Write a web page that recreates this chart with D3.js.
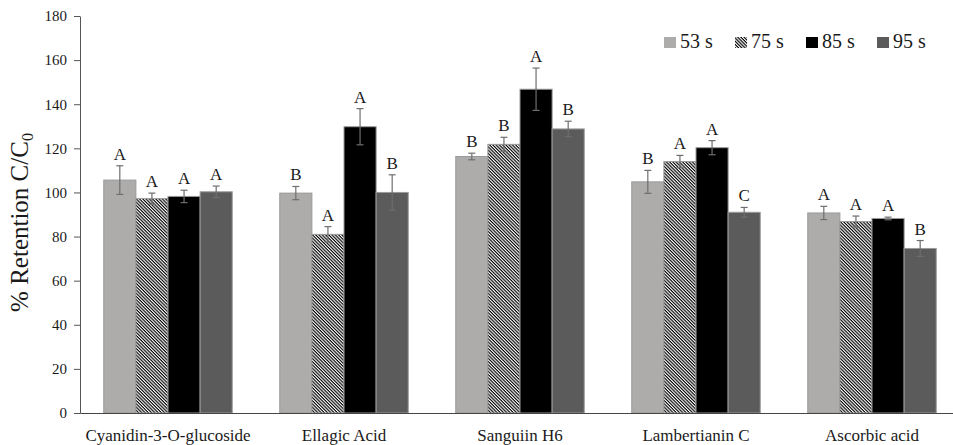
<!DOCTYPE html>
<html>
<head>
<meta charset="utf-8">
<script src="https://cdn.jsdelivr.net/npm/d3@7"></script>
<style>
  body { margin: 0; background: #fff; }
  #chart { width: 953px; height: 445px; overflow: hidden; }
</style>
</head>
<body>
<div id="chart"></div>
<script>
//Datos
const compuestos = ['Cyanidin-3-O-glucoside', 'Ellagic Acid', 'Sanguiin H6', 'Lambertianin C', 'Ascorbic acid'];
const tiempos = ['53 s', '75 s', '85 s', '95 s'];

const valores_53 = [105.6, 99.7, 116.3, 104.8, 90.7];
const valores_75 = [97.2, 81.0, 121.8, 114.0, 86.8];
const valores_85 = [98.2, 129.8, 146.8, 120.3, 88.2];
const valores_95 = [100.3, 100.0, 128.8, 91.0, 74.6];

const error_53 = [6.5, 3.0, 1.5, 5.2, 3.0];
const error_75 = [2.5, 3.5, 3.2, 2.8, 2.5];
const error_85 = [2.8, 8.2, 9.6, 3.2, 0.6];
const error_95 = [2.6, 8.0, 3.5, 2.2, 3.6];

const letras_53 = ['A', 'B', 'B', 'B', 'A'];
const letras_75 = ['A', 'A', 'B', 'A', 'A'];
const letras_85 = ['A', 'A', 'A', 'A', 'A'];
const letras_95 = ['A', 'B', 'B', 'C', 'B'];

const yTicks = [0, 20, 40, 60, 80, 100, 120, 140, 160, 180];

//Colores y fuente
const COLOR_53 = '#aeabab',
COLOR_85 = '#000000',
COLOR_95 = '#5b5b5b',
COLOR_BORDE = '#9a9a9a',
COLOR_ERROR = '#6e6e6e',
COLOR_TEXTO = '#1a1a1a';
const FUENTE = 'Liberation Serif, Times New Roman, serif';

const valores = [valores_53, valores_75, valores_85, valores_95];
const errores = [error_53, error_75, error_85, error_95];
const letras = [letras_53, letras_75, letras_85, letras_95];

let data = compuestos.map(function(c, i) {
    return {
        compuesto: c,
        barras: tiempos.map(function(t, j) {
            return {key: t, value: valores[j][i], error: errores[j][i], letra: letras[j][i]};
        })
    };
});

let margin = {top: 16, right: -7, bottom: 32, left: 80},
    width = 953 - margin.left - margin.right,
    height = 445 - margin.top - margin.bottom;

let root = d3.select('#chart')
    .append('svg')
        .attr('width', 953)
        .attr('height', 445)
        .attr('font-family', FUENTE);

let svg = root.append('g')
    .attr('transform', 'translate(' + margin.left + ',' + margin.top + ')');

//Patrón rayado para 75 s
let pattern = root.append('defs').append('pattern')
    .attr('id', 'rayado')
    .attr('patternUnits', 'userSpaceOnUse')
    .attr('width', 2.3)
    .attr('height', 2.3)
    .attr('patternTransform', 'rotate(45)');
pattern.append('rect')
    .attr('width', 2.3).attr('height', 2.3).attr('fill', '#fff');
pattern.append('rect')
    .attr('width', 2.3).attr('height', 1.15).attr('fill', '#000');

let color = d3.scaleOrdinal()
    .domain(tiempos)
    .range([COLOR_53, 'url(#rayado)', COLOR_85, COLOR_95]);

let x = d3.scaleBand()
    .domain(compuestos)
    .range([0, width])
    .paddingInner(0.27)
    .paddingOuter(0.135);

let xSubgroup = d3.scaleBand()
    .domain(tiempos)
    .range([0, x.bandwidth()]);

let y = d3.scaleLinear()
    .domain([0, 180])
    .range([height, 0]);

//Eje Y
let yAxis = svg.append('g')
    .call(d3.axisLeft(y).tickValues(yTicks).tickSize(6).tickSizeOuter(0).tickPadding(7));
yAxis.attr('font-family', FUENTE).attr('font-size', 15);
yAxis.select('.domain').attr('stroke', '#555');
yAxis.selectAll('.tick line').attr('stroke', '#555');
yAxis.selectAll('.tick text').attr('fill', COLOR_TEXTO);

//Barras
let grupos = svg.append('g')
    .selectAll('g')
    .data(data)
    .enter()
    .append('g')
    .attr('transform', function(d) { return 'translate(' + x(d.compuesto) + ',0)'; });

grupos.selectAll('rect')
    .data(function(d) { return d.barras; })
    .enter()
    .append('rect')
    .attr('x', function(d) { return xSubgroup(d.key); })
    .attr('y', function(d) { return y(d.value); })
    .attr('width', xSubgroup.bandwidth())
    .attr('height', function(d) { return y(0) - y(d.value); })
    .attr('fill', function(d) { return color(d.key); })
    .attr('stroke', COLOR_BORDE)
    .attr('stroke-width', 1);

//Barras de error
let errs = grupos.selectAll('.err')
    .data(function(d) { return d.barras; })
    .enter()
    .append('g')
    .attr('class', 'err')
    .attr('transform', function(d) { return 'translate(' + (xSubgroup(d.key) + xSubgroup.bandwidth() / 2) + ',0)'; })
    .attr('stroke', COLOR_ERROR)
    .attr('stroke-width', 1.2);

errs.append('line')
    .attr('x1', 0).attr('x2', 0)
    .attr('y1', function(d) { return y(d.value + d.error); })
    .attr('y2', function(d) { return y(d.value - d.error); });
errs.append('line')
    .attr('x1', -3.5).attr('x2', 3.5)
    .attr('y1', function(d) { return y(d.value + d.error); })
    .attr('y2', function(d) { return y(d.value + d.error); });
errs.append('line')
    .attr('x1', -3.5).attr('x2', 3.5)
    .attr('y1', function(d) { return y(d.value - d.error); })
    .attr('y2', function(d) { return y(d.value - d.error); });

//Letras
grupos.selectAll('.letra')
    .data(function(d) { return d.barras; })
    .enter()
    .append('text')
    .attr('class', 'letra')
    .attr('x', function(d) { return xSubgroup(d.key) + xSubgroup.bandwidth() / 2; })
    .attr('y', function(d) { return y(d.value + d.error) - 6; })
    .attr('text-anchor', 'middle')
    .attr('font-size', 17)
    .attr('fill', COLOR_TEXTO)
    .text(function(d) { return d.letra; });

//Eje X
let xAxis = svg.append('g')
    .attr('transform', 'translate(0,' + height + ')')
    .call(d3.axisBottom(x).tickSize(0).tickPadding(16));
xAxis.attr('font-family', FUENTE).attr('font-size', 17);
xAxis.select('.domain').attr('stroke', '#444');
xAxis.selectAll('.tick text').attr('fill', COLOR_TEXTO);

//Título eje Y
let titulo = svg.append('text')
    .attr('transform', 'translate(' + (-52) + ',' + (height / 2 + 8) + ') rotate(-90)')
    .attr('text-anchor', 'middle')
    .attr('font-size', 25)
    .attr('fill', COLOR_TEXTO);
titulo.append('tspan').text('% Retention C/C');
titulo.append('tspan').attr('font-size', 16).attr('dy', 5).text('0');

//Leyenda
let leyenda = svg.append('g')
    .attr('transform', 'translate(' + (584) + ',' + (21) + ')');

let items = leyenda.selectAll('g')
    .data(tiempos)
    .enter()
    .append('g')
    .attr('transform', function(d, i) { return 'translate(' + (i * 71) + ',0)'; });

items.append('rect')
    .attr('width', 12)
    .attr('height', 11)
    .attr('fill', function(d) { return color(d); });

items.append('text')
    .attr('x', 16)
    .attr('y', 11)
    .attr('font-size', 20)
    .attr('fill', COLOR_TEXTO)
    .text(function(d) { return d; });
</script>
</body>
</html>
